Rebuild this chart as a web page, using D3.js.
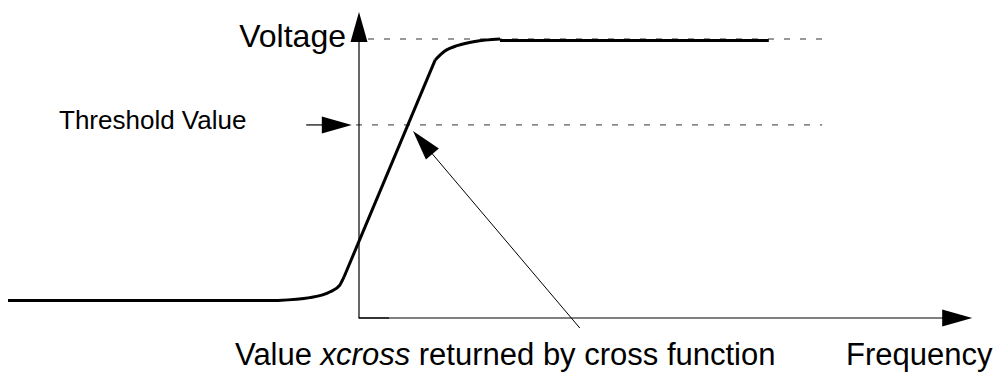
<!DOCTYPE html>
<html>
<head>
<meta charset="utf-8">
<script src="https://cdn.jsdelivr.net/npm/d3@7/dist/d3.min.js"></script>
<style>
  body { margin: 0; background: #fff; }
  svg text { font-family: Arial, "Liberation Sans", sans-serif; fill: #000; }
</style>
</head>
<body>
<div id="chart"></div>
<script>
// response curve (x = frequency units, y = normalised voltage)
const lowFlat = [[-5.85, 0.063], [-1.35, 0.063]];
const lowKnee = [[-1.35, 0.063], [-0.82, 0.073], [-0.48, 0.094], [-0.32, 0.118], [-0.25, 0.147]];
const rise = [[-0.25, 0.147], [1.27, 0.925]];
const highKnee = [[1.27, 0.925], [1.43, 0.957], [1.65, 0.977], [1.93, 0.991], [2.35, 1.0]];
const highFlat = [[2.35, 0.995], [6.83, 0.995]];

const vMax = 1.0;
const threshold = 0.692;
const vMaxDash = [0.15, 7.78];
const thresholdDash = [-0.05, 7.72];
const thresholdArrow = [-0.88, -0.12];
const pointer = [[3.68, -0.036], [0.9, 0.67]]; // tail, tip
const axisEnds = { x: 10.22, y: 1.097 };

const labels = {
  voltage: "Voltage",
  threshold: "Threshold Value",
  freq: "Frequency"
};

const width = 997, height = 375;

const x = d3.scaleLinear().domain([0, 10]).range([359, 959]);
const y = d3.scaleLinear().domain([0, 1]).range([318, 39]);

const svg = d3.select("#chart")
  .append("svg")
  .attr("width", width)
  .attr("height", height);

// filled arrow head pointing from (x1,y1) to the tip (x2,y2), pixels
const head = (x1, y1, x2, y2, len = 30, half = 8.5) => {
  const a = Math.atan2(y2 - y1, x2 - x1);
  const bx = x2 - len * Math.cos(a), by = y2 - len * Math.sin(a);
  const nx = -Math.sin(a) * half, ny = Math.cos(a) * half;
  return `M${x2},${y2}L${bx + nx},${by + ny}L${bx - nx},${by - ny}Z`;
};

const arrow = (p0, p1, w, len) => {
  const x1 = x(p0[0]), y1 = y(p0[1]), x2 = x(p1[0]), y2 = y(p1[1]);
  const a = Math.atan2(y2 - y1, x2 - x1);
  svg.append("line")
    .attr("x1", x1).attr("y1", y1)
    .attr("x2", x2 - (len - 2) * Math.cos(a))
    .attr("y2", y2 - (len - 2) * Math.sin(a))
    .attr("stroke", "#000")
    .attr("stroke-width", w);
  svg.append("path").attr("d", head(x1, y1, x2, y2, len)).attr("fill", "#000");
};

// dashed reference lines
svg.append("line")
  .attr("x1", x(vMaxDash[0])).attr("x2", x(vMaxDash[1]))
  .attr("y1", y(vMax)).attr("y2", y(vMax))
  .attr("stroke", "#333").attr("stroke-width", 1)
  .attr("stroke-dasharray", "6,10");
svg.append("line")
  .attr("x1", x(thresholdDash[0])).attr("x2", x(thresholdDash[1]))
  .attr("y1", y(threshold)).attr("y2", y(threshold))
  .attr("stroke", "#333").attr("stroke-width", 1)
  .attr("stroke-dasharray", "6,10");

// axes
arrow([0, 0], [0, axisEnds.y], 1.2, 30);
arrow([0, 0], [axisEnds.x, 0], 1.2, 30);
svg.append("line")
  .attr("x1", x(0) - 0.6).attr("x2", x(0.5))
  .attr("y1", y(0)).attr("y2", y(0))
  .attr("stroke", "#000").attr("stroke-width", 1.2);

// curve
const lin = d3.line().x((d) => x(d[0])).y((d) => y(d[1]));
const smooth = d3.line().x((d) => x(d[0])).y((d) => y(d[1])).curve(d3.curveMonotoneX);
[[lowFlat, lin], [lowKnee, smooth], [rise, lin], [highKnee, smooth], [highFlat, lin]]
  .forEach(([pts, gen]) => {
    svg.append("path")
      .attr("d", gen(pts))
      .attr("fill", "none")
      .attr("stroke", "#000")
      .attr("stroke-width", 3)
      .attr("stroke-linecap", "butt")
      .attr("stroke-linejoin", "round");
  });

// threshold arrow and pointer to the crossing
arrow([thresholdArrow[0], threshold], [thresholdArrow[1], threshold], 1.2, 30);
arrow(pointer[0], pointer[1], 1, 30);

// texts
svg.append("text")
  .attr("x", 346).attr("y", 47)
  .attr("text-anchor", "end")
  .style("font-size", "32px")
  .text(labels.voltage);

svg.append("text")
  .attr("x", 59).attr("y", 129)
  .style("font-size", "26px")
  .text(labels.threshold);

const bottom = svg.append("text")
  .attr("x", 235).attr("y", 365)
  .style("font-size", "31px");
bottom.append("tspan").text("Value ");
bottom.append("tspan").style("font-style", "italic").text("xcross");
bottom.append("tspan").text(" returned by cross function");

svg.append("text")
  .attr("x", 846).attr("y", 365)
  .style("font-size", "31px")
  .text(labels.freq);
</script>
</body>
</html>
